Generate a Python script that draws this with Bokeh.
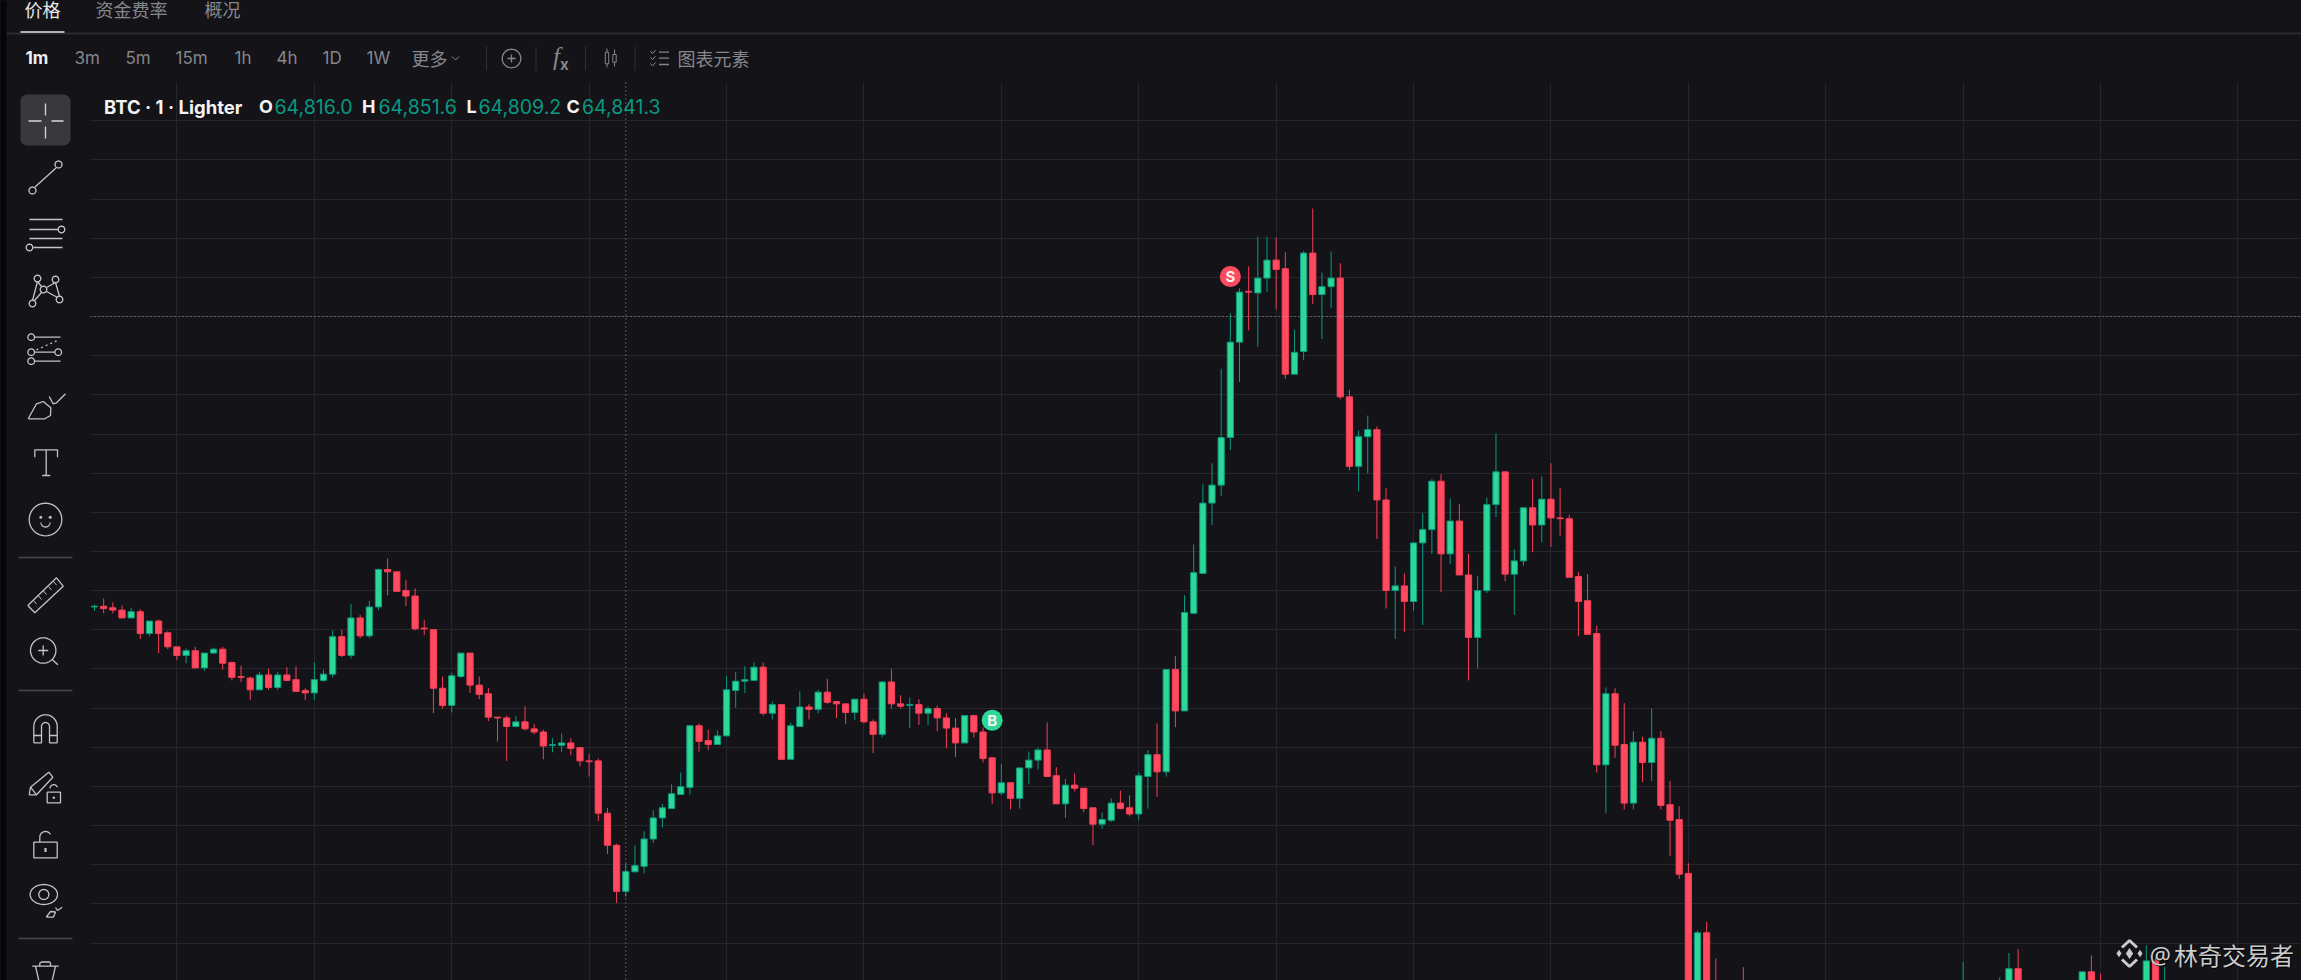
import math
from bokeh.core.properties import value
from bokeh.embed import file_html
from bokeh.models import ColumnDataSource, FixedTicker, Grid, Range1d
from bokeh.plotting import figure
from bokeh.resources import INLINE

bar_index = list(range(178)) + [180, 204, 208, 209, 210, 217, 218, 219, 224, 225, 226]

opens = [65180,65181,65179,65176,65166,65174,65146,65162,65147,65129,
65118,65124,65102,65121,65126,65109,65091,65089,65074,65093,
65077,65093,65087,65073,65070,65086,65094,65142,65118,65166,
65143,65180,65228,65225,65201,65194,65153,65151,65076,65054,
65091,65121,65080,65069,65039,65038,65027,65033,65024,65020,
65003,65003,65006,65000,64983,64983,64916,64875,64816.0,64841,
64848,64883,64910,64922,64940,64949,65028,65009,65004,65015,
65073,65085,65086,65103,65044,65055,64985,65027,65052,65049,
65071,65059,65056,65045,65062,65033,65017,65084,65056,65054,
65055,65044,65050,65038,65025,65006,65041,65020,64987,64942,
64955,64935,64974,64984,64997,64964,64928,64952,64948,64923,
64902,64907,64929,64923,64915,64963,64991,64969,65100,65047,
65172,65223,65313,65336,65397,65519,65584,65582,65601,65624,
65613,65478,65507,65633,65580,65590,65601,65449,65360,65398,
65407,65317,65201,65207,65187,65262,65279,65341,65248,65290,
65221,65141,65201,65311,65353,65222,65239,65307,65285,65318,
65294,65293,65219,65188,65146,64978,65069,65004,64929,65007,
64981,65012,64927,64908,64839,64660,64763,64695,
64695,64670,64670,64680,64717,64680,64713,64695,64680,64727,64680]

highs = [65183,65191,65186,65182,65179,65177,65162,65164,65149,65129,
65127,65129,65121,65128,65129,65110,65105,65091,65097,65101,
65097,65103,65104,65076,65109,65100,65150,65151,65184,65170,
65188,65229,65242,65225,65215,65204,65163,65151,65091,65096,
65121,65121,65091,65076,65039,65041,65040,65053,65030,65023,
65012,65018,65012,65000,64992,64986,64923,64877,64851.6,64875,
64893,64920,64928,64953,64968,65029,65031,65023,65022,65092,
65097,65104,65109,65109,65059,65055,65032,65072,65056,65074,
65088,65059,65056,65062,65069,65036,65085,65101,65067,65064,
65062,65053,65054,65044,65038,65041,65042,65026,64987,64979,
64956,64974,64995,65000,65032,64975,64960,64967,64948,64923,
64917,64935,64945,64939,64968,64997,65031,65100,65117,65195,
65260,65337,65364,65485,65556,65588,65616,65654,65654,65653,
65634,65535,65636,65690,65608,65635,65620,65458,65406,65425,
65411,65332,65232,65223,65262,65300,65344,65350,65319,65312,
65248,65220,65320,65402,65353,65254,65307,65344,65347,65364,
65332,65298,65225,65222,65156,65077,65076,65057,65021,65014,
65050,65021,64957,64925,64852,64766,64777,64730,
64719,64726,64706,64737,64742,64713,64734,64711,64747,64731,64720]

lows = [65175,65172,65172,65166,65166,65139,65143,65121,65126,65112,
65108,65102,65098,65121,65100,65086,65084,65061,65074,65074,
65074,65085,65071,65061,65061,65084,65090,65116,65114,65140,
65140,65176,65195,65200,65181,65150,65144,65044,65050,65045,
65089,65070,65062,65034,65008,64983,65026,65022,65017,64985,
64994,64994,64990,64976,64963,64906,64864,64801,64809.2,64841,
64839,64878,64898,64922,64940,64940,64995,64997,65004,65015,
65051,65070,65086,65041,65036,64985,64985,65027,65036,65044,
65056,65038,65030,65035,65031,64993,65013,65050,65050,65025,
65029,65029,65021,64999,64988,65006,65013,64981,64928,64939,
64921,64922,64953,64972,64963,64928,64910,64944,64917,64875,
64896,64905,64921,64912,64907,64922,64937,64963,65026,65047,
65171,65223,65285,65322,65381,65468,65534,65513,65583,65561,
65472,65478,65496,65568,65523,65563,65446,65355,65328,65351,
65267,65178,65139,65148,65175,65157,65248,65199,65235,65221,
65086,65101,65198,65295,65213,65170,65233,65250,65263,65257,
65271,65218,65143,65145,64968,64916,64987,64921,64921,64956,
64957,64921,64861,64832,64650,64650,64670,64640,
64660,64670,64670,64670,64680,64680,64680,64680,64680,64680,64680]

closes = [65181,65178,65176,65166,65174,65146,65162,65146,65129,65118,
65124,65102,65121,65126,65108,65090,65090,65074,65093,65077,
65093,65086,65072,65070,65087,65094,65142,65118,65166,65143,
65180,65228,65225,65200,65194,65152,65152,65076,65054,65092,
65121,65080,65068,65039,65038,65027,65033,65024,65020,65002,
65004,65006,64999,64983,64982,64916,64875,64816,64841.3,64849,
64883,64910,64923,64941,64950,65028,65008,65004,65015,65074,
65085,65087,65103,65044,65055,64985,65028,65052,65049,65071,
65058,65056,65045,65062,65033,65017,65084,65056,65053,65055,
65044,65050,65038,65025,65006,65041,65020,64986,64942,64955,
64935,64974,64984,64997,64963,64928,64952,64948,64922,64902,
64908,64929,64922,64915,64964,64991,64969,65100,65047,65173,
65224,65313,65336,65397,65519,65583,65583,65601,65624,65612,
65478,65506,65633,65580,65590,65601,65449,65360,65398,65407,
65317,65201,65207,65187,65262,65279,65341,65248,65290,65221,
65141,65201,65311,65353,65222,65239,65307,65285,65318,65294,
65293,65218,65187,65145,64978,65069,65003,64929,65007,64981,
65012,64926,64907,64838,64660,64763,64680,64650,
64670,64695,64695,64717,64690,64713,64685,64680,64727,64680,64695]

tabs = ["价格", "资金费率", "概况"]
intervals = ["1m", "3m", "5m", "15m", "1h", "4h", "1D", "1W", "更多"]
trade_marks = [("S", 124, 65603), ("B", 98, 65035)]
crosshair_bar = 58
focus = 58

BG = "#131318"
UP, UP_EDGE = "#2dd796", "#0c9a80"
DOWN, DOWN_EDGE = "#ff4a60", "#f83e56"
TEAL = "#089981"
ICON = "#c4c4c6"
GRAY = "#86868c"

W, H = 2301, 980
x_start = (0 - 94) / 9.16
x_end = (W - 94) / 9.16
y_top = 64850 + 1.28 * 864.3
y_bot = 64850 + 1.28 * (864.3 - H)

p = figure(width=W, height=H, output_backend="svg", toolbar_location=None,
           x_range=Range1d(x_start, x_end), y_range=Range1d(y_bot, y_top),
           min_border=0, min_border_left=0, min_border_right=0,
           min_border_top=0, min_border_bottom=0,
           background_fill_color=BG, border_fill_color=BG, outline_line_color=None)
p.xaxis.visible = False
p.yaxis.visible = False
p.grid.visible = False
p.extra_x_ranges["px"] = Range1d(0, W)
p.extra_y_ranges["py"] = Range1d(H, 0)

GRID = "#25252b"
p.add_layout(Grid(dimension=0, ticker=FixedTicker(ticks=list(range(9, 240, 15))),
                  grid_line_color=GRID, grid_line_width=1))
p.add_layout(Grid(dimension=1, ticker=FixedTicker(ticks=[64850 + 50.125 * j for j in range(-3, 20)]),
                  grid_line_color=GRID, grid_line_width=1))

PX = dict(x_range_name="px", y_range_name="py")

def rect(x0, y0, x1, y1, color):
    p.quad(left=[x0], right=[x1], top=[y0], bottom=[y1], fill_color=color, line_color=None, **PX)

def line(xs, ys, color=ICON, w=1.3, dash="solid"):
    p.line(xs, ys, line_color=color, line_width=w, line_dash=dash, **PX)

def arc(cx, cy, rx, a0=0, a1=360, ry=None, color=ICON, w=1.3):
    ry = rx if ry is None else ry
    n = 48
    ang = [math.radians(a0 + (a1 - a0) * k / n) for k in range(n + 1)]
    line([cx + rx * math.cos(a) for a in ang], [cy + ry * math.sin(a) for a in ang], color, w)

def label(x, y, s, color=GRAY, size=16, font="Inter", style="normal", align="left"):
    p.text(x=[x], y=[y], text=[s], text_color=color, text_font=value(font),
           text_font_size=value(f"{size}px"), text_font_style=style,
           text_align=align, text_baseline="middle", **PX)

def rounded(x0, y0, x1, y1, r, color):
    xs, ys = [], []
    for cx, cy, a0 in ((x1 - r, y0 + r, -90), (x1 - r, y1 - r, 0), (x0 + r, y1 - r, 90), (x0 + r, y0 + r, 180)):
        for k in range(9):
            a = math.radians(a0 + 90 * k / 8)
            xs.append(cx + r * math.cos(a))
            ys.append(cy + r * math.sin(a))
    p.patch(xs, ys, fill_color=color, line_color=None, **PX)

# panels that hide the grid outside the chart pane
rect(0, 0, 90, H, BG)
rect(0, 0, W, 82, BG)
rect(0, 0, 6, H, "#05050a")

# candles
up = [i for i in range(len(bar_index)) if closes[i] >= opens[i]]
dn = [i for i in range(len(bar_index)) if closes[i] < opens[i]]
for idx, fill, edge in ((up, UP, UP_EDGE), (dn, DOWN, DOWN_EDGE)):
    src = ColumnDataSource(dict(
        x=[bar_index[i] for i in idx],
        o=[opens[i] for i in idx], c=[closes[i] for i in idx],
        h=[highs[i] for i in idx], l=[lows[i] for i in idx],
        top=[max(opens[i], closes[i]) for i in idx],
        bot=[min(opens[i], closes[i]) for i in idx]))
    p.segment("x", "h", "x", "l", source=src, line_color=edge, line_width=1)
    p.vbar(x="x", width=0.68, top="top", bottom="bot", source=src,
           fill_color=fill, line_color=edge, line_width=1)

# crosshair
CROSS = "#9a9a9c"
cross_x = 94 + 9.16 * crosshair_bar
line([cross_x, cross_x], [82, H], CROSS, 1, "1 3")
line([90, W], [316, 316], CROSS, 1, "1 3")

# trade markers
for letter, bar, price in trade_marks:
    col = DOWN if letter == "S" else UP
    p.scatter([bar], [price], marker="circle", size=21, fill_color=col, line_color=None)
    p.text([bar], [price], text=[letter], text_color="#f4f4f4", text_font=value("Inter"),
           text_font_size=value("15px"), text_font_style="bold",
           text_align="center", text_baseline="middle")

# top tabs
line([6, W], [33, 33], "#2b2b31", 2)
line([20, 64], [31.5, 31.5], "#e6e6e6", 1.5)
label(24, 8, tabs[0], "#e8e8e8", 18, "Noto Sans CJK SC")
label(95, 8, tabs[1], GRAY, 18, "Noto Sans CJK SC")
label(204, 8, tabs[2], GRAY, 18, "Noto Sans CJK SC")

# toolbar
for s, x in zip(intervals, [25, 74, 125, 175, 234, 276, 322, 366]):
    label(x, 57, s, "#f0f0f0" if s == "1m" else GRAY, 17, "Inter", "bold" if s == "1m" else "normal")
label(411, 57, intervals[8], GRAY, 18, "Noto Sans CJK SC")
line([451.5, 455, 458.5], [56, 59.5, 56], GRAY, 1)
for x in (486, 535.5, 585, 634.5):
    line([x, x], [46, 70], "#303036", 1)
arc(511, 58, 9.3, color=GRAY, w=1.3)
line([507, 515], [58, 58], GRAY, 1.3)
line([511, 511], [54, 62], GRAY, 1.3)
label(559.5, 56, "f", GRAY, 25, "Liberation Serif", "italic", "right")
label(559.5, 64, "x", GRAY, 15, "Inter", "bold")
for cx, y0, y1, wy0, wy1 in ((606.5, 51.7, 63.3, 48, 67), (614, 54, 61.7, 49, 66)):
    line([cx, cx], [wy0, wy1], GRAY, 1)
    p.quad(left=[cx - 1.7], right=[cx + 1.7], top=[y0], bottom=[y1], fill_color=BG, line_color=GRAY, line_width=1, **PX)
for y in (51.7, 57.7, 64):
    line([650, 652, 655], [y - 1, y + 1.5, y - 2], GRAY, 1)
    line([658.5, 668.5], [y, y], GRAY, 1.3)
label(677, 57, "图表元素", GRAY, 18, "Noto Sans CJK SC")

# legend
WHITE = "#f2f2f2"
label(103.5, 106, "BTC · 1 · Lighter", WHITE, 18.5, "Inter", "bold")
for letter, val, xl, xv in (("O", opens[focus], 258.5, 274), ("H", highs[focus], 361.5, 378),
                            ("L", lows[focus], 466, 478), ("C", closes[focus], 566, 581.5)):
    label(xl, 106, letter, WHITE, 18, "Inter", "bold")
    label(xv, 106, f"{val:,.1f}", TEAL, 19.5, "Inter")

# sidebar
rounded(20, 94, 70, 145, 7, "#39393d")
line([45, 45], [103, 115], "#d8d8d8"); line([45, 45], [126, 138], "#d8d8d8")
line([28, 41], [120.5, 120.5], "#d8d8d8"); line([51, 63], [120.5, 120.5], "#d8d8d8")
# trend line
line([34.5, 55.5], [186.5, 167.5]); arc(58, 164, 3.5); arc(32, 190, 3.5)
# channel
line([29, 62], [219, 219]); line([29, 58], [229, 229]); arc(61, 229, 3.3)
line([29, 62], [238, 238]); line([33, 62], [247, 247]); arc(29, 247, 3.3)
# network
for cx, cy in ((37, 278), (55, 279), (43, 289), (32, 303), (59, 299)):
    arc(cx, cy, 3.3)
line([37, 32], [281, 300]); line([37, 41], [281, 286]); line([55, 46], [282, 287])
line([55, 59], [282, 296]); line([41, 34], [292, 300]); line([46, 57], [291, 297])
# fib
line([34, 60], [336.7, 336.7]); arc(30.7, 336.7, 3.3)
line([36, 58.7], [349.3, 339.3], ICON, 1.3, "2 3")
line([34, 54.5], [351.7, 351.7]); arc(30.7, 351.7, 3.3); arc(57.7, 351.7, 3.3)
line([34, 60], [360.7, 360.7]); arc(30.7, 360.7, 3.3)
# brush
line([27.7, 36, 42.7, 50.3, 50, 44.3, 27.7], [418.3, 403.3, 401, 407.3, 415, 418.3, 418.3])
line([48.7, 52.7, 56, 65], [396, 403.3, 402.3, 393.3])
# T
line([34.3, 34.3, 57, 57], [456.7, 449.3, 449.3, 456.7])
line([45.7, 45.7], [449.3, 475]); line([41.7, 49.7], [475, 475])
# smile
arc(45, 519, 16.3)
p.scatter([40.3, 49.7], [516.7, 516.7], marker="circle", size=3, fill_color=ICON, line_color=None, **PX)
arc(45, 522, 4.5, 0, 180)
# ruler
line([27.3, 34.3, 62.7, 56, 27.3], [605, 612.3, 585.7, 577.3, 605])
for a, b in ((33, 600), (38, 595.5), (43, 590.5), (48, 586), (53, 581)):
    line([a, a + 3], [b, b + 3.5], ICON, 1)
# zoom
arc(42.7, 650, 12.7); line([37.7, 47.7], [650, 650]); line([42.7, 42.7], [645, 655]); line([51.7, 57.3], [659, 664.3])
# magnet
ang = [math.radians(180 + k * 180 / 24) for k in range(25)]
mx = [33.3] + [45 + 11.7 * math.cos(a) for a in ang] + [56.7, 49] + [45 + 4 * math.cos(a) for a in reversed(ang)] + [41, 33.3]
my = [742.3] + [726 + 11.7 * math.sin(a) for a in ang] + [742.3, 742.3] + [726 + 4 * math.sin(a) for a in reversed(ang)] + [742.3, 742.3]
line(mx, my)
line([33.3, 41], [735, 735]); line([49, 56.7], [735, 735])
# pencil + lock
line([28.7, 30, 48.3, 52.3, 36, 28.7], [794.3, 786.7, 771.7, 776.7, 794.3, 794.3])
line([30, 36], [786.7, 794.3])
p.quad(left=[46.7], right=[60], top=[791.7], bottom=[802.3], fill_color=BG, line_color=ICON, line_width=1.3, **PX)
arc(53.3, 788, 3.8, 180, 340)
p.scatter([53.3], [797.3], marker="circle", size=2.5, fill_color=ICON, line_color=None, **PX)
# lock
p.quad(left=[33.3], right=[56.7], top=[841.7], bottom=[857.3], fill_color=BG, line_color=ICON, line_width=1.3, **PX)
line([39.3, 39.3], [841.7, 836.7]); arc(45, 836.7, 5.7, 180, 330)
line([45, 45], [847.5, 851.5], ICON, 2.2)
# eye
arc(43.3, 894, 13.7, ry=10)
arc(43.3, 894, 5)
line([45.7, 50, 55, 53, 45.7], [916.7, 911, 911.5, 916.5, 916.7])
line([55, 57, 61.7], [907, 910, 906.7])
# trash
line([31.7, 58.3], [965.7, 965.7]); line([39.3, 39.3, 41, 49, 50, 50], [965.7, 962.5, 961.5, 961.5, 962.5, 965.7])
line([35, 38.3], [965.7, 980]); line([55, 51.7], [965.7, 980])
# separators
for y in (557, 690, 938):
    line([18, 72], [y, y], "#47474b", 1.5)

# watermark
WM = "#cbcbcb"
p.scatter([2129], [953], marker="diamond", size=11, fill_color=WM, line_color=None, **PX)
p.scatter([2118.5, 2139.5], [953, 953], marker="diamond", size=7.5, fill_color=WM, line_color=None, **PX)
line([2121.5, 2129, 2136.5], [947, 940, 947], WM, 3)
line([2121.5, 2129, 2136.5], [959, 966, 959], WM, 3)
label(2150, 955, "@", "#000000", 24, "Noto Sans")
label(2149, 954, "@", WM, 24, "Noto Sans")
label(2174.5, 955, "林奇交易者", "#000000", 24, "Noto Sans CJK SC")
label(2173.5, 954, "林奇交易者", WM, 24, "Noto Sans CJK SC")

html = file_html(p, INLINE)
html = html.replace("<head>", f"<head><style>html,body{{margin:0;padding:0;background:{BG};overflow:hidden}}</style>", 1)
open("out.html", "w").write(html)
